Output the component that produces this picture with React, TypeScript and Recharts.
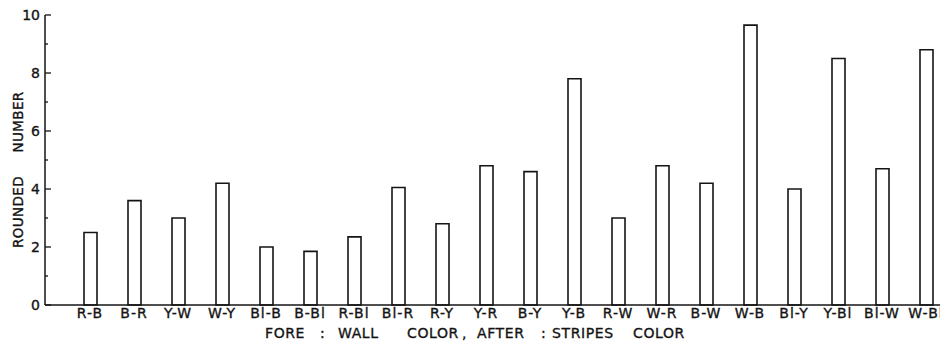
import React from "react";
import { BarChart, Bar, XAxis, YAxis, Label } from "recharts";

const categories = [
  "R-B", "B-R", "Y-W", "W-Y", "Bl-B", "B-Bl", "R-Bl", "Bl-R", "R-Y", "Y-R",
  "B-Y", "Y-B", "R-W", "W-R", "B-W", "W-B", "Bl-Y", "Y-Bl", "Bl-W", "W-Bl",
];
const roundedNumber = [
  2.5, 3.6, 3.0, 4.2, 2.0, 1.85, 2.35, 4.05, 2.8, 4.8,
  4.6, 7.8, 3.0, 4.8, 4.2, 9.65, 4.0, 8.5, 4.7, 8.8,
];
const yTicks = [0, 1, 2, 3, 4, 5, 6, 7, 8, 9, 10];
const xTitleWords = ["FORE", ":", "WALL", "COLOR", ",", "AFTER", ":", "STRIPES", "COLOR"];
const xTitleAt = [265, 320, 338, 407, 462, 477, 541, 552, 633];
const yTitleWords = ["ROUNDED", "NUMBER"];
const yTitleAt = [212, 122];

const data = categories.map((c, i) => ({ name: c, value: roundedNumber[i] }));

const INK = "#141414";
const FONT = "'DejaVu Sans', 'Liberation Sans', sans-serif";
const TICK_MARGIN = 4;
const textInk = { fill: INK, stroke: INK, strokeWidth: 0.35 };

const YTick = (props: any) => {
  const { x, y, payload } = props;
  const v = payload.value as number;
  const ax = x + TICK_MARGIN;
  const major = v % 2 === 0;
  return (
    <g>
      <line x1={ax} x2={ax + (major ? 6 : 3)} y1={y} y2={y} stroke={INK} strokeWidth={1.3} />
      {major && (
        <text x={x - 1} y={y} dy="0.36em" textAnchor="end" fontSize={14} fontFamily={FONT} {...textInk}>
          {v}
        </text>
      )}
    </g>
  );
};

const XTitle = () => (
  <text y={338} fontSize={14} fontFamily={FONT} letterSpacing={0.6} {...textInk}>
    {xTitleWords.map((w, i) => (
      <tspan key={i} x={xTitleAt[i]}>{w}</tspan>
    ))}
  </text>
);

const YTitle = () => (
  <g>
    {yTitleWords.map((w, i) => (
      <text
        key={w}
        transform={`translate(23,${yTitleAt[i]}) rotate(-90)`}
        textAnchor="middle"
        fontSize={13.5}
        fontFamily={FONT}
        letterSpacing={0.4}
        {...textInk}
      >
        {w}
      </text>
    ))}
  </g>
);

export default function App() {
  return (
    <div style={{ position: "absolute", left: 0, top: 0, width: 940, height: 346, overflow: "hidden", background: "#fff" }}>
      <BarChart
        width={950}
        height={346}
        data={data}
        margin={{ top: 15, right: 2, left: 0, bottom: 0 }}
        style={{ fontFamily: FONT }}
      >
        <XAxis
          dataKey="name"
          interval={0}
          height={41}
          padding={{ left: 23, right: 0 }}
          tickLine={false}
          tickSize={0}
          tickMargin={3}
          axisLine={{ stroke: INK, strokeWidth: 1.5 }}
          tick={{ fontSize: 14, fontFamily: FONT, letterSpacing: 1, ...textInk }}
        >
          <Label content={<XTitle />} />
        </XAxis>
        <YAxis
          width={45}
          domain={[0, 10]}
          ticks={yTicks}
          interval={0}
          tickLine={false}
          tickSize={0}
          tickMargin={TICK_MARGIN}
          axisLine={{ stroke: INK, strokeWidth: 1.5 }}
          tick={<YTick />}
        >
          <Label content={<YTitle />} />
        </YAxis>
        <Bar
          dataKey="value"
          barSize={13}
          fill="#fff"
          stroke={INK}
          strokeWidth={1.6}
          isAnimationActive={false}
        />
      </BarChart>
    </div>
  );
}
